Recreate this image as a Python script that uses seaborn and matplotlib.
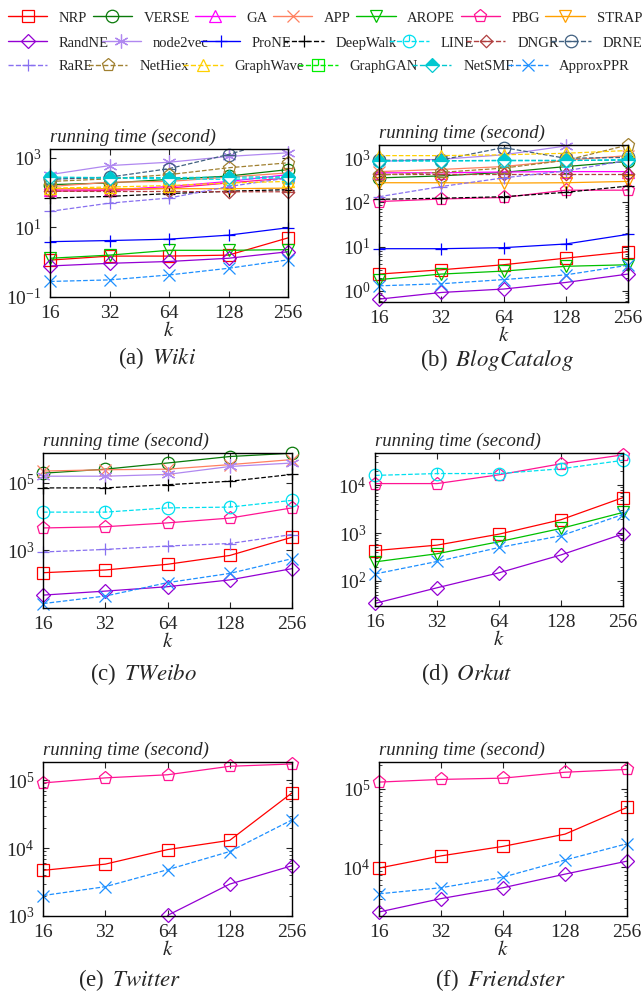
import numpy as np
import pandas as pd
import matplotlib
matplotlib.use('Agg')
from matplotlib import pyplot as plt
from matplotlib.path import Path
from matplotlib.lines import Line2D
import seaborn as sns

ks = [16, 32, 64, 128, 256]
k_labels = ['16', '32', '64', '128', '256']

wiki = {
    'NRP': [1.15, 1.5, 1.5, 1.6, 5.0],
    'VERSE': [170, 190, 240, 300, 460],
    'GA': [120, 120, 150, 210, 330],
    'APP': [150, 200, 210, 280, 370],
    'AROPE': [1.3, 1.6, 2.2, 2.2, 2.3],
    'PBG': [110, 115, 135, 190, 265],
    'STRAP': [130, 130, 130, 130, 135],
    'RandNE': [0.78, 0.93, 1.05, 1.3, 2.0],
    'node2vec': [330, 600, 750, 1100, 1400],
    'ProNE': [3.9, 4.2, 4.6, 6.0, 9.8],
    'DeepWalk': [70, 78, 94, 110, 122],
    'LINE': [260, 260, 250, 240, 270],
    'DNGR': [110, 108, 108, 106, 106],
    'DRNE': [240, 280, 490, 1250, 4000],
    'RaRE': [29, 50, 70, 150, 265],
    'NetHiex': [210, 250, 330, 520, 720],
    'GraphWave': [135, 145, 160, 190, 210],
    'NetSMF': [280, 270, 270, 280, 285],
    'ApproxPPR': [0.28, 0.31, 0.43, 0.67, 1.17],
}

blogcatalog = {
    'NRP': [2.4, 3.0, 3.9, 5.5, 7.7],
    'VERSE': [360, 400, 480, 650, 850],
    'GA': [470, 470, 490, 500, 500],
    'APP': [500, 560, 650, 900, 1150],
    'AROPE': [1.8, 2.4, 2.8, 3.6, 3.9],
    'PBG': [105, 120, 130, 190, 190],
    'STRAP': [280, 280, 275, 280, 300],
    'RandNE': [0.65, 0.92, 1.1, 1.55, 2.4],
    'node2vec': [850, 950, 1200, 1900, 2600],
    'ProNE': [9.0, 9.0, 9.5, 11.5, 19],
    'DeepWalk': [118, 125, 135, 170, 235],
    'LINE': [870, 870, 880, 880, 950],
    'DNGR': [450, 450, 450, 450, 450],
    'DRNE': [900, 920, 1750, 1000, 1050],
    'RaRE': [135, 230, 360, 520, 900],
    'NetHiex': [420, 480, 600, 900, 2000],
    'GraphWave': [1150, 1150, 1200, 1300, 1500],
    'NetSMF': [880, 880, 900, 900, 900],
    'ApproxPPR': [1.3, 1.45, 1.8, 2.3, 3.8],
}

tweibo = {
    'NRP': [220, 265, 390, 710, 2450],
    'VERSE': [1.9e5, 2.5e5, 3.8e5, 5.9e5, 7.4e5],
    'APP': [2.2e5, 2.4e5, 2.5e5, 3.4e5, 4.8e5],
    'PBG': [4.6e3, 5.0e3, 6.5e3, 9.0e3, 1.8e4],
    'RandNE': [48, 63, 85, 135, 290],
    'node2vec': [1.55e5, 1.55e5, 1.75e5, 3.0e5, 3.8e5],
    'DeepWalk': [7.0e4, 7.0e4, 8.7e4, 1.1e5, 1.75e5],
    'LINE': [1.35e4, 1.35e4, 1.8e4, 1.9e4, 3.0e4],
    'RaRE': [900, 1070, 1350, 1600, 2950],
    'ApproxPPR': [27, 45, 112, 210, 570],
}

orkut = {
    'NRP': [430, 560, 950, 1900, 5500],
    'AROPE': [250, 370, 660, 1250, 2700],
    'PBG': [1.08e4, 1.08e4, 1.65e4, 2.8e4, 4.3e4],
    'RandNE': [34, 72, 148, 350, 960],
    'LINE': [1.6e4, 1.75e4, 1.75e4, 2.2e4, 3.3e4],
    'ApproxPPR': [140, 255, 500, 880, 2450],
}

twitter = {
    'NRP': [4.7e3, 5.8e3, 9.5e3, 1.3e4, 6.5e4],
    'PBG': [9.1e4, 1.08e5, 1.2e5, 1.6e5, 1.73e5],
    'RandNE': [np.nan, np.nan, 1.02e3, 2.95e3, 5.5e3],
    'ApproxPPR': [2.0e3, 2.7e3, 4.8e3, 8.9e3, 2.6e4],
}

friendster = {
    'NRP': [9.8e3, 1.4e4, 1.85e4, 2.65e4, 5.8e4],
    'PBG': [1.22e5, 1.32e5, 1.37e5, 1.63e5, 1.77e5],
    'RandNE': [2.7e3, 4.0e3, 5.5e3, 8.2e3, 1.2e4],
    'ApproxPPR': [4.6e3, 5.5e3, 7.5e3, 1.24e4, 2.0e4],
}

# custom gnuplot-like markers
circle_hline = Path.make_compound_path(Path.unit_circle(), Path([(-1, 0), (1, 0)]))
circle_vtick = Path.make_compound_path(Path.unit_circle(), Path([(0, 0), (0, 1)]))
diamond_hline = Path.make_compound_path(
    Path([(0, -1), (1, 0), (0, 1), (-1, 0), (0, -1)], closed=True), Path([(-1, 0), (1, 0)]))
square_vline = Path.make_compound_path(
    Path([(-1, -1), (1, -1), (1, 1), (-1, 1), (-1, -1)], closed=True), Path([(0, 0), (0, 1)]))

# name: (color, marker, linestyle, size)
STYLES = {
    'NRP': ('#ff0000', 's', '-', 8.5),
    'VERSE': ('#0a7a0a', 'o', '-', 9),
    'GA': ('#ff00ff', '^', '-', 9),
    'APP': ('#ff8060', 'x', '-', 8),
    'AROPE': ('#00c000', 'v', '-', 9),
    'PBG': ('#ff1493', 'p', '-', 9.5),
    'STRAP': ('#ffa000', 'v', '-', 9),
    'RandNE': ('#9400d3', 'D', '-', 7),
    'node2vec': ('#b088f0', (6, 2, 0), '-', 10),
    'ProNE': ('#0000ff', '+', '-', 9),
    'DeepWalk': ('#000000', '+', '--', 9),
    'LINE': ('#00e0f0', circle_vtick, '--', 9),
    'DNGR': ('#b04040', diamond_hline, '--', 9),
    'DRNE': ('#406080', circle_hline, '--', 9),
    'RaRE': ('#8870f0', '+', '--', 9),
    'NetHiex': ('#a08030', 'p', '--', 9.5),
    'GraphWave': ('#ffd000', '^', '--', 9),
    'GraphGAN': ('#00ee00', square_vline, '--', 8),
    'NetSMF': ('#00c8d0', 'D', '--', 7.5),
    'ApproxPPR': ('#1e90ff', 'x', '--', 8.5),
}

legend_rows = [
    ['NRP', 'VERSE', 'GA', 'APP', 'AROPE', 'PBG', 'STRAP'],
    ['RandNE', 'node2vec', 'ProNE', 'DeepWalk', 'LINE', 'DNGR', 'DRNE'],
    ['RaRE', 'NetHiex', 'GraphWave', 'GraphGAN', 'NetSMF', 'ApproxPPR'],
]

sns.set_style('ticks')
plt.rcParams['font.family'] = ['Liberation Serif', 'DejaVu Serif']
plt.rcParams['mathtext.fontset'] = 'stix'


def marker_kws(name):
    color, marker, ls, ms = STYLES[name]
    kws = dict(marker=marker, markersize=ms, markeredgecolor=color,
               markeredgewidth=0.9, markerfacecolor='none')
    if name == 'NetSMF':
        kws.update(fillstyle='top', markerfacecolor=color, markerfacecoloralt='white')
    return kws


def draw_panel(ax, data, ylim):
    for method in STYLES:
        if method not in data:
            continue
        color, marker, ls, ms = STYLES[method]
        df = pd.DataFrame({'k': ks, 't': data[method]}).dropna()
        sns.lineplot(data=df, x='k', y='t', ax=ax, color=color, linestyle=ls,
                     linewidth=0.9, errorbar=None)
        # markers outside the y range are hidden, those on the frame stay whole
        inside = df[(df['t'] >= ylim[0] * 0.97) & (df['t'] <= ylim[1] * 1.03)]
        sns.lineplot(data=inside, x='k', y='t', ax=ax, color=color, linestyle='none',
                     errorbar=None, clip_on=False, **marker_kws(method))
    ax.set_xscale('log', base=2)
    ax.set_yscale('log')
    ax.set_xlim(16, 256)
    ax.set_ylim(*ylim)
    ax.set_xticks(ks)
    ax.set_xticklabels(k_labels)
    ax.minorticks_off()
    ax.yaxis.set_minor_locator(matplotlib.ticker.LogLocator(subs=np.arange(2, 10)))
    ax.yaxis.set_minor_formatter(matplotlib.ticker.NullFormatter())
    ax.tick_params(which='both', direction='in', top=True, right=True, labelsize=14)
    ax.tick_params(which='major', length=4, pad=6)
    ax.tick_params(which='minor', length=2)
    for sp in ax.spines.values():
        sp.set_linewidth(1.0)
        sp.set_color('black')
    ax.set_xlabel('$k$', fontsize=15, labelpad=0)
    ax.set_ylabel('')
    ax.text(0.0, 1.02, 'running time (second)', transform=ax.transAxes,
            fontsize=13.5, fontstyle='italic', ha='left', va='bottom')


fig = plt.figure(figsize=(6.42, 9.92), dpi=100)
W, H = 642, 992


def add_ax(left, right, top, bottom):
    return fig.add_axes([left / W, 1 - bottom / H, (right - left) / W, (bottom - top) / H])


panels = [
    (add_ax(50, 288, 149, 297), wiki, (0.1, 1800), '(a)', 'Wiki', 157, 358),
    (add_ax(379, 628, 145, 302), blogcatalog, (0.56, 2000), '(b)', 'BlogCatalog', 497, 360),
    (add_ax(43, 292, 453, 608), tweibo, (20, 7.5e5), '(c)', 'TWeibo', 143, 674),
    (add_ax(375, 623, 453, 606), orkut, (30, 4.7e4), '(d)', 'Orkut', 467, 674),
    (add_ax(43, 292, 762, 916), twitter, (1e3, 1.85e5), '(e)', 'Twitter', 130, 980),
    (add_ax(379, 627, 762, 916), friendster, (2.4e3, 2.2e5), '(f)', 'Friendster', 501, 980),
]

for ax, data, ylim, lab, name, cx, cy in panels:
    draw_panel(ax, data, ylim)
    fig.text(cx / W, 1 - cy / H, lab + r'$\;\;\mathit{' + name + '}$',
             fontsize=16.5, ha='center', va='center')

row_y = [18, 43, 66]
row_span = [(8, 642), (8, 642), (8, 630)]
for names, y, (x0, x1) in zip(legend_rows, row_y, row_span):
    handles = []
    for n in names:
        color, marker, ls, ms = STYLES[n]
        handles.append(Line2D([], [], color=color, linestyle=ls, linewidth=1.0,
                              **marker_kws(n)))
    fig.legend(handles, names, loc='center left', ncol=len(names), frameon=False,
               bbox_to_anchor=(x0 / W, 1 - (y + 10) / H, (x1 - x0) / W, 20 / H),
               mode='expand', fontsize=10.5, handlelength=2.7, handletextpad=0.8,
               borderpad=0, borderaxespad=0)

fig.savefig('out.png', dpi=100)
